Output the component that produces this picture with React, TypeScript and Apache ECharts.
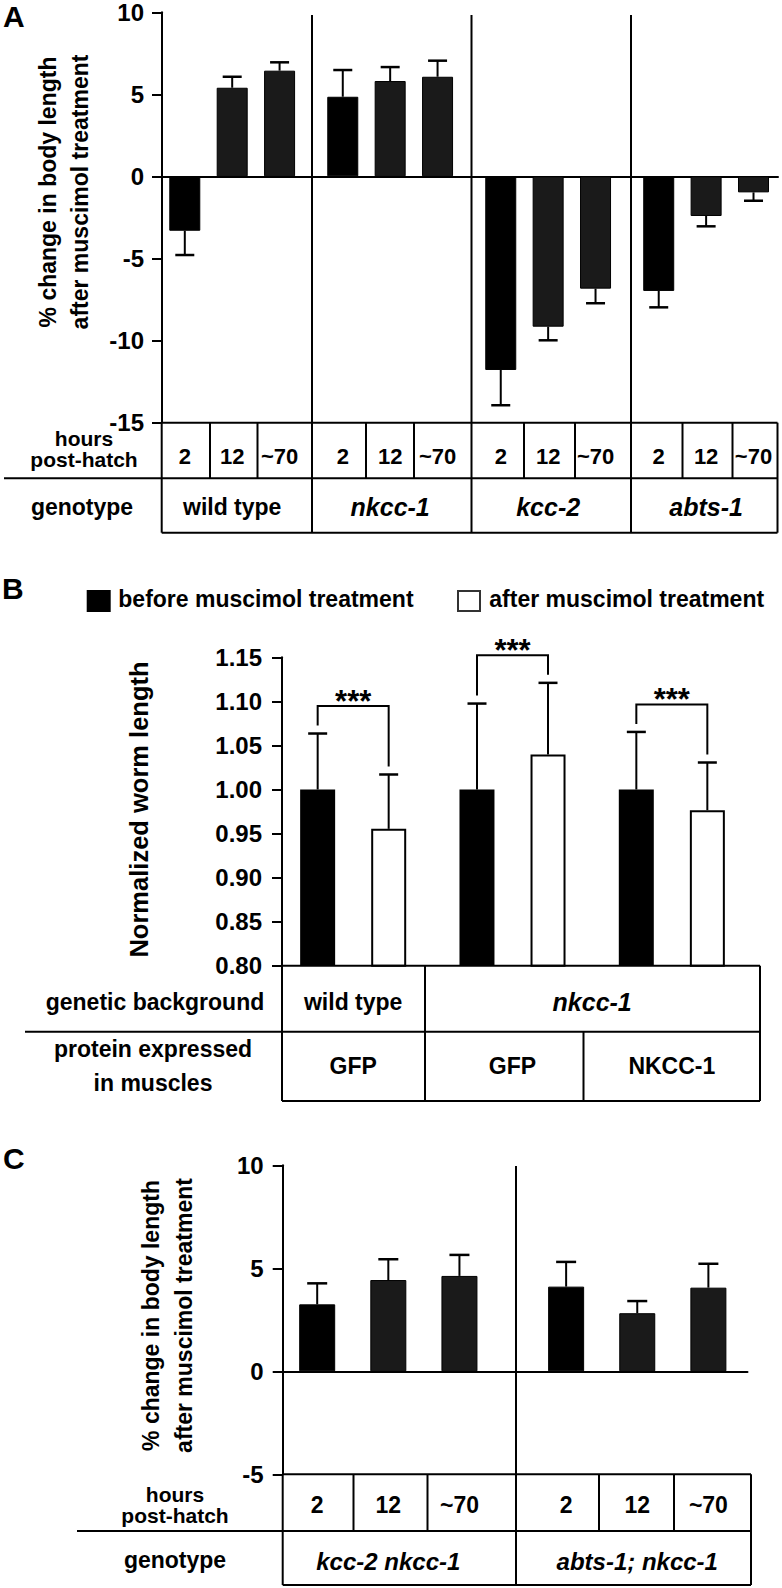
import React, { useEffect, useRef } from "react";
import * as echarts from "echarts";

// ---------- Panel A ----------
const A_HOURS = ["2", "12", "~70"];
const A_GENOTYPES = ["wild type", "nkcc-1", "kcc-2", "abts-1"];
const A_GENO_ITALIC = [false, true, true, true];
const A_VALUES = [-3.32, 5.4, 6.44, 4.85, 5.81, 6.07, -11.81, -9.17, -6.85, -6.99, -2.42, -0.98];
const A_ERRORS = [1.48, 0.67, 0.51, 1.63, 0.85, 0.98, 2.15, 0.83, 0.89, 1.0, 0.63, 0.51];
const A_Y = { min: -15, max: 10, interval: 5 };
const A_YLABEL = ["% change in body length", "after muscimol treatment"];

// ---------- Panel B ----------
const B_GROUPS = ["wild type / GFP", "nkcc-1 / GFP", "nkcc-1 / NKCC-1"];
const B_BACKGROUND = ["wild type", "nkcc-1"];
const B_PROTEIN = ["GFP", "GFP", "NKCC-1"];
const B_BEFORE = [1.0, 1.0, 1.0];
const B_BEFORE_ERR = [0.0635, 0.0975, 0.0653];
const B_AFTER = [0.9553, 1.0397, 0.9765];
const B_AFTER_ERR = [0.0617, 0.0813, 0.0541];
const B_SIG = ["***", "***", "***"];
const B_Y = { min: 0.8, max: 1.15, interval: 0.05 };
const B_LEGEND = ["before muscimol treatment", "after muscimol treatment"];

// ---------- Panel C ----------
const C_HOURS = ["2", "12", "~70"];
const C_GENOTYPES = ["kcc-2 nkcc-1", "abts-1; nkcc-1"];
const C_VALUES = [3.25, 4.43, 4.63, 4.11, 2.82, 4.06];
const C_ERRORS = [1.02, 1.01, 1.02, 1.2, 0.59, 1.16];
const C_Y = { min: -5, max: 10, interval: 5 };

const FONT = '"Liberation Sans", Arial, Helvetica, sans-serif';

// layout positions of bars along the value x axes (group spacing wider than bar spacing)
const aPos = (i: number) => Math.floor(i / 3) * 10 + (i % 3) * 3;
const cPos = (i: number) => Math.floor(i / 3) * 7 + (i % 3) * 2;
const A_XMIN = -1.443, A_XMAX = 37.55;
const C_XMIN = -0.97, C_XMAX = 12.1;
const B_OFF = 35.5; // half distance between paired bars in panel B

const lineEl = (x1: number, y1: number, x2: number, y2: number, w = 2) => ({
  type: "line",
  silent: true,
  shape: { x1, y1, x2, y2 },
  style: { stroke: "#000", lineWidth: w },
  z: 50,
});

const textEl = (
  x: number,
  y: number,
  text: string,
  size = 23,
  opts: { italic?: boolean; align?: string; rotation?: number; weight?: string; lineHeight?: number } = {}
) => ({
  type: "text",
  silent: true,
  x,
  y,
  rotation: opts.rotation || 0,
  z: 50,
  style: {
    text,
    fill: "#000",
    fontSize: size,
    fontWeight: opts.weight || "bold",
    fontStyle: opts.italic ? "italic" : "normal",
    fontFamily: FONT,
    lineHeight: opts.lineHeight || undefined,
    align: opts.align || "center",
    verticalAlign: "middle",
    textAlign: opts.align || "center",
    textVerticalAlign: "middle",
  },
});

const valueYAxis = (grid: number, cfg: { min: number; max: number; interval: number }, margin: number, extra: any = {}) => ({
  gridIndex: grid,
  type: "value",
  min: cfg.min,
  max: cfg.max,
  interval: cfg.interval,
  axisLine: { show: true, onZero: false, lineStyle: { color: "#000", width: 2 } },
  axisTick: { show: true, length: 10, lineStyle: { color: "#000", width: 2 } },
  axisLabel: { fontSize: 24, fontWeight: "bold", color: "#000", fontFamily: FONT, margin },
  splitLine: { show: false },
  ...extra,
});

const hiddenValueX = (grid: number, min: number, max: number) => ({
  gridIndex: grid,
  type: "value",
  min,
  max,
  axisLine: { show: true, onZero: true, lineStyle: { color: "#000", width: 2 } },
  axisTick: { show: false },
  axisLabel: { show: false },
  splitLine: { show: false },
});

const errorRender = (capHalf: number, offsetPx: number) => (params: any, api: any) => {
  const x = api.value(0);
  const v = api.value(1);
  const e = api.value(2);
  const side = api.value(3) || 0;
  const end = v >= 0 ? v + e : v - e;
  const p0 = api.coord([x, v]);
  const p1 = api.coord([x, end]);
  const cx = p0[0] + side * offsetPx;
  return {
    type: "group",
    children: [
      { type: "line", shape: { x1: cx, y1: p0[1], x2: cx, y2: p1[1] }, style: { stroke: "#000", lineWidth: 2 } },
      { type: "line", shape: { x1: cx - capHalf, y1: p1[1], x2: cx + capHalf, y2: p1[1] }, style: { stroke: "#000", lineWidth: 2.5 } },
    ],
  };
};

const bracketRender = (params: any, api: any) => {
  const c = api.value(0);
  const capL = api.value(1);
  const capR = api.value(2);
  const pl = api.coord([c, capL]);
  const pr = api.coord([c, capR]);
  const xl = pl[0] - B_OFF;
  const xr = pl[0] + B_OFF;
  const top = Math.min(pl[1], pr[1]) - 27.5;
  return {
    type: "group",
    children: [
      {
        type: "polyline",
        shape: { points: [[xl, pl[1] - 8], [xl, top], [xr, top], [xr, pr[1] - 8]] },
        style: { stroke: "#000", lineWidth: 2, fill: null },
      },
      {
        type: "text",
        x: (xl + xr) / 2,
        y: top - 5,
        style: {
          text: B_SIG[params.dataIndex],
          fill: "#000",
          fontSize: 31,
          fontWeight: "bold",
          fontFamily: FONT,
          align: "center",
          verticalAlign: "middle",
          textAlign: "center",
          textVerticalAlign: "middle",
        },
      },
    ],
  };
};

export default function App() {
  const ref = useRef<HTMLDivElement>(null);

  useEffect(() => {
    document.body.style.margin = "0";
    const chart = echarts.init(ref.current as HTMLDivElement, undefined, { renderer: "svg" });

    const aBarData = A_VALUES.map((v, i) => ({
      value: [aPos(i), v],
      itemStyle: { color: i % 3 === 0 ? "#000" : "#1a1a1a" },
    }));
    const aErrData = A_VALUES.map((v, i) => [aPos(i), v, A_ERRORS[i], 0]);
    const cBarData = C_VALUES.map((v, i) => ({
      value: [cPos(i), v],
      itemStyle: { color: i % 3 === 0 ? "#000" : "#1a1a1a" },
    }));
    const cErrData = C_VALUES.map((v, i) => [cPos(i), v, C_ERRORS[i], 0]);
    const bErrData = [
      ...B_BEFORE.map((v, i) => [i, v, B_BEFORE_ERR[i], -1]),
      ...B_AFTER.map((v, i) => [i, v, B_AFTER_ERR[i], 1]),
    ];
    const bBracketData = B_BEFORE.map((v, i) => [i, v + B_BEFORE_ERR[i], B_AFTER[i] + B_AFTER_ERR[i]]);

    const option: any = {
      animation: false,
      backgroundColor: "#fff",
      grid: [
        { left: 162, top: 12.3, width: 616, height: 410 },
        { left: 273.5, top: 657.3, width: 478, height: 308.4 },
        { left: 282.7, top: 1165.3, width: 464.8, height: 309 },
      ],
      xAxis: [
        hiddenValueX(0, A_XMIN, A_XMAX),
        { gridIndex: 1, type: "category", data: B_GROUPS, show: false },
        hiddenValueX(2, C_XMIN, C_XMAX),
      ],
      yAxis: [
        valueYAxis(0, A_Y, 18),
        valueYAxis(1, B_Y, 20, {
          offset: -8.5,
          axisLabel: {
            fontSize: 24,
            fontWeight: "bold",
            color: "#000",
            fontFamily: FONT,
            margin: 20,
            formatter: (v: number) => v.toFixed(2),
          },
        }),
        valueYAxis(2, C_Y, 19),
      ],
      series: [
        {
          type: "bar",
          xAxisIndex: 0,
          yAxisIndex: 0,
          barWidth: 31,
          data: aBarData,
          itemStyle: { borderColor: "#000", borderWidth: 1 },
        },
        {
          type: "custom",
          xAxisIndex: 0,
          yAxisIndex: 0,
          renderItem: errorRender(9.5, 0),
          data: aErrData,
          z: 5,
        },
        {
          type: "bar",
          xAxisIndex: 1,
          yAxisIndex: 1,
          barWidth: 35,
          barGap: "103%",
          data: B_BEFORE,
          itemStyle: { color: "#000" },
        },
        {
          type: "bar",
          xAxisIndex: 1,
          yAxisIndex: 1,
          barWidth: 35,
          barGap: "103%",
          data: B_AFTER,
          itemStyle: { color: "#fff", borderColor: "#000", borderWidth: 2 },
        },
        {
          type: "custom",
          xAxisIndex: 1,
          yAxisIndex: 1,
          renderItem: errorRender(9.5, B_OFF),
          data: bErrData,
          z: 5,
        },
        {
          type: "custom",
          xAxisIndex: 1,
          yAxisIndex: 1,
          renderItem: bracketRender,
          data: bBracketData,
          z: 5,
        },
        {
          type: "bar",
          xAxisIndex: 2,
          yAxisIndex: 2,
          barWidth: 36,
          data: cBarData,
          itemStyle: { borderColor: "#000", borderWidth: 1 },
        },
        {
          type: "custom",
          xAxisIndex: 2,
          yAxisIndex: 2,
          renderItem: errorRender(10, 0),
          data: cErrData,
          z: 5,
        },
      ],
    };
    chart.setOption(option);

    const ax = (v: number) => chart.convertToPixel({ xAxisIndex: 0 }, v) as number;
    const bx = (i: number) => chart.convertToPixel({ xAxisIndex: 1 }, i) as number;
    const cx = (v: number) => chart.convertToPixel({ xAxisIndex: 2 }, v) as number;

    const els: any[] = [];
    // ===== Panel A =====
    els.push(textEl(3, 16, "A", 30, { align: "left" }));
    els.push(textEl(48, 192, A_YLABEL[0], 23, { rotation: Math.PI / 2 }));
    els.push(textEl(80, 192, A_YLABEL[1], 23, { rotation: Math.PI / 2 }));
    const aTop = 422.7, aMid = 478.3, aBot = 532.7, aRight = 777.5;
    const aGroupLines = [312, 471.5, 631];
    aGroupLines.forEach((x) => els.push(lineEl(x, 15, x, aBot)));
    els.push(lineEl(161.7, aTop, 161.7, aBot));
    els.push(lineEl(aRight, aTop, aRight, aBot));
    els.push(lineEl(161.7, aTop, aRight, aTop));
    els.push(lineEl(4, aMid, aRight, aMid));
    els.push(lineEl(161.7, aBot, aRight, aBot));
    [210, 257.5, 366, 414, 524, 575, 682.5, 732.5].forEach((x) => els.push(lineEl(x, aTop, x, aMid)));
    els.push(textEl(84, 449, "hours\npost-hatch", 21, { lineHeight: 21 }));
    els.push(textEl(82, 507, "genotype", 23));
    A_VALUES.forEach((_, i) => els.push(textEl(ax(aPos(i)), 456, A_HOURS[i % 3], 22)));
    A_GENOTYPES.forEach((g, gi) =>
      els.push(textEl(ax(aPos(gi * 3 + 1)), 507, g, A_GENO_ITALIC[gi] ? 25 : 23, { italic: A_GENO_ITALIC[gi] }))
    );

    // ===== Panel B =====
    els.push(textEl(2, 588, "B", 30, { align: "left" }));
    els.push({
      type: "rect",
      silent: true,
      shape: { x: 86.7, y: 590, width: 24, height: 22 },
      style: { fill: "#000" },
    });
    els.push(textEl(118.3, 599, B_LEGEND[0], 23, { align: "left" }));
    els.push({
      type: "rect",
      silent: true,
      shape: { x: 458, y: 591, width: 22, height: 20 },
      style: { fill: "#fff", stroke: "#333", lineWidth: 2 },
    });
    els.push(textEl(489.3, 599, B_LEGEND[1], 23, { align: "left" }));
    els.push(textEl(139, 809.5, "Normalized worm length", 25.5, { rotation: Math.PI / 2 }));
    const bTop = 965.7, bMid = 1031.7, bBot = 1101, bLeft = 282, bRight = 760;
    els.push(lineEl(bLeft, bTop, bRight, bTop));
    els.push(lineEl(25, bMid, bRight, bMid));
    els.push(lineEl(bLeft, bBot, bRight, bBot));
    els.push(lineEl(bLeft, bTop, bLeft, bBot));
    els.push(lineEl(425, bTop, 425, bBot));
    els.push(lineEl(583.5, bMid, 583.5, bBot));
    els.push(lineEl(bRight, bTop, bRight, bBot));
    els.push(textEl(155, 1002, "genetic background", 23));
    els.push(textEl(bx(0), 1002, B_BACKGROUND[0], 23));
    els.push(textEl((bx(1) + bx(2)) / 2, 1002, B_BACKGROUND[1], 25, { italic: true }));
    els.push(textEl(153, 1049, "protein expressed", 23));
    els.push(textEl(153, 1083, "in muscles", 23));
    B_PROTEIN.forEach((p, i) => els.push(textEl(bx(i), 1066, p, 23)));

    // ===== Panel C =====
    els.push(textEl(3, 1158, "C", 30, { align: "left" }));
    els.push(textEl(151, 1315.5, A_YLABEL[0], 23, { rotation: Math.PI / 2 }));
    els.push(textEl(184, 1315.5, A_YLABEL[1], 23, { rotation: Math.PI / 2 }));
    const cTop = 1474.3, cMid = 1531, cBot = 1585, cLeft = 282.7, cRight = 751;
    els.push(lineEl(516, 1166, 516, cBot));
    els.push(lineEl(cLeft, cTop, cRight, cTop));
    els.push(lineEl(77, cMid, cRight, cMid));
    els.push(lineEl(cLeft, cBot, cRight, cBot));
    els.push(lineEl(cLeft, cTop, cLeft, cBot));
    els.push(lineEl(cRight, cTop, cRight, cBot));
    [353.5, 427.5, 599, 674].forEach((x) => els.push(lineEl(x, cTop, x, cMid)));
    els.push(textEl(175, 1505, "hours\npost-hatch", 21, { lineHeight: 21 }));
    els.push(textEl(175, 1560, "genotype", 23));
    C_VALUES.forEach((_, i) => els.push(textEl(cx(cPos(i)), 1505, C_HOURS[i % 3], 23)));
    C_GENOTYPES.forEach((g, gi) => els.push(textEl(cx(cPos(gi * 3 + 1)), 1561, g, 24, { italic: true })));

    chart.setOption({ graphic: { elements: els } });

    return () => chart.dispose();
  }, []);

  return (
    <div
      ref={ref}
      style={{ position: "absolute", left: 0, top: 0, width: 782, height: 1588, background: "#fff" }}
    />
  );
}
